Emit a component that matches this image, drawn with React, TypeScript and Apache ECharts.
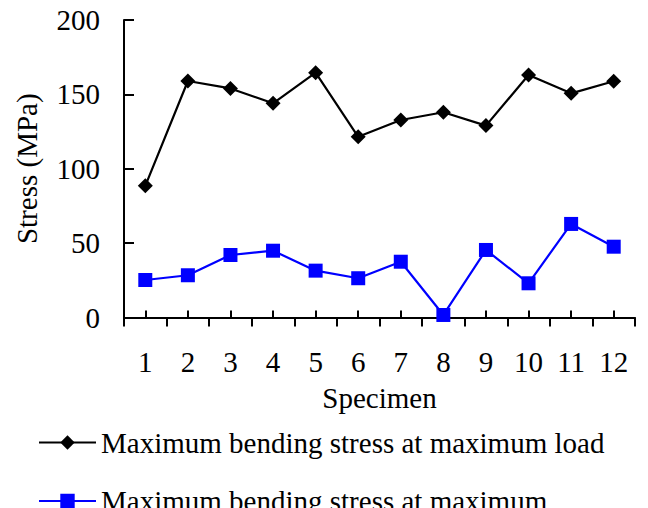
import React, { useEffect, useRef } from "react";
import * as echarts from "echarts";

const specimens = ["1", "2", "3", "4", "5", "6", "7", "8", "9", "10", "11", "12"];
const stressAtMaxLoad = [88.5, 159, 154, 144, 164.6, 121.5, 132.8, 138, 129, 163, 150.7, 158.8];
const stressAtMaxDisp = [25.2, 28.4, 42, 44.9, 31.5, 26.4, 37.5, 1.7, 45.4, 23, 62.9, 47.6];
const seriesNames = [
  "Maximum bending stress at maximum load",
  "Maximum bending stress at maximum",
];

const FONT = "'Liberation Serif', 'Times New Roman', serif";

export default function App() {
  const ref = useRef<HTMLDivElement>(null);
  useEffect(() => {
    if (!ref.current) return;
    const chart = echarts.init(ref.current, undefined, { renderer: "svg" });
    const txt = { color: "#000", fontFamily: FONT, fontSize: 29 };
    const legendBase = {
      orient: "vertical",
      left: 33,
      itemWidth: 57,
      itemHeight: 18,
      itemGap: 30,
      textStyle: { ...txt },
    };
    chart.setOption({
      animation: false,
      backgroundColor: "#fff",
      grid: { left: 124, right: 13, top: 20, bottom: 190.5, containLabel: false },
      legend: [
        { ...legendBase, top: 423, data: [seriesNames[0]] },
        { ...legendBase, top: 481.5, data: [seriesNames[1]] },
      ],
      xAxis: [
        {
          type: "category",
          data: specimens,
          position: "bottom",
          name: "Specimen",
          nameLocation: "middle",
          nameGap: 66,
          nameTextStyle: { ...txt },
          axisLine: { lineStyle: { color: "#000", width: 2 } },
          axisTick: { show: true, inside: false, length: 9, lineStyle: { color: "#000", width: 2 } },
          axisLabel: { ...txt, margin: 30, interval: 0 },
          splitLine: { show: false },
        },
        {
          type: "category",
          data: specimens,
          position: "bottom",
          axisLine: { show: false },
          axisTick: { show: true, inside: true, alignWithLabel: true, length: 7, lineStyle: { color: "#000", width: 2 } },
          axisLabel: { show: false },
          splitLine: { show: false },
        },
      ],
      yAxis: {
        type: "value",
        min: 0,
        max: 200,
        interval: 50,
        name: "Stress (MPa)",
        nameLocation: "middle",
        nameGap: 83,
        nameTextStyle: { ...txt },
        axisLine: { show: true, lineStyle: { color: "#000", width: 2 } },
        axisTick: { show: true, inside: true, length: 10, lineStyle: { color: "#000", width: 2 } },
        axisLabel: { ...txt, margin: 24 },
        splitLine: { show: false },
      },
      series: [
        {
          name: seriesNames[0],
          type: "line",
          data: stressAtMaxLoad,
          symbol: "diamond",
          symbolSize: 15,
          lineStyle: { color: "#000", width: 2.2 },
          itemStyle: { color: "#000" },
        },
        {
          name: seriesNames[1],
          type: "line",
          data: stressAtMaxDisp,
          symbol: "rect",
          symbolSize: 14,
          lineStyle: { color: "#0000ff", width: 2.2 },
          itemStyle: { color: "#0000ff" },
        },
      ],
    });
    return () => chart.dispose();
  }, []);
  return <div ref={ref} style={{ width: 648, height: 508, position: "absolute", left: 0, top: 0 }} />;
}
